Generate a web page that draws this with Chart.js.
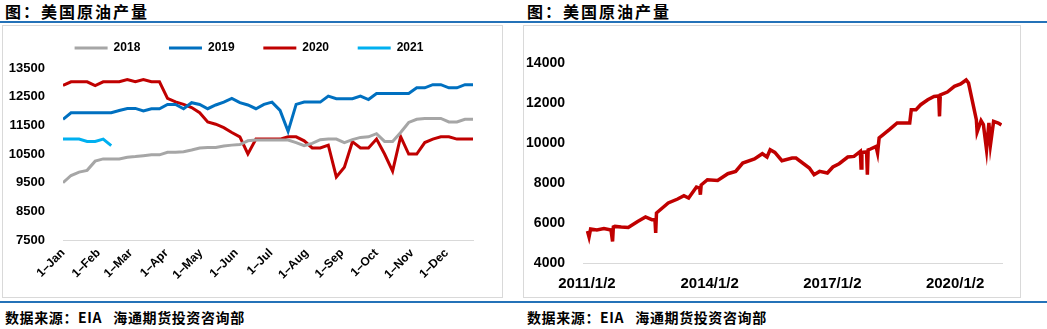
<!DOCTYPE html>
<html>
<head>
<meta charset="utf-8">
<script src="https://cdn.jsdelivr.net/npm/chart.js@4.4.0/dist/chart.umd.min.js"></script>
<style>
body{margin:0;width:1047px;height:329px;background:#fff;position:relative;overflow:hidden;font-family:"Noto Sans CJK SC",sans-serif;color:#000;}
.rule{position:absolute;left:0;width:1047px;height:2px;background:#2472B8;}
.title{position:absolute;top:1px;font-size:16px;font-weight:bold;letter-spacing:2px;line-height:20px;}
.src{position:absolute;top:308px;font-size:14px;font-weight:bold;letter-spacing:0.6px;line-height:18px;}
.box{position:absolute;top:25px;height:271px;border:1px solid #D9D9D9;}
canvas{position:absolute;}
</style>
</head>
<body>
<div class="title" style="left:5px">图：美国原油产量</div>
<div class="title" style="left:527px">图：美国原油产量</div>
<div class="rule" style="top:21px"></div>
<div class="box" style="left:2px;width:499px"></div>
<div class="box" style="left:523px;width:496px"></div>
<canvas id="left" width="498" height="270" style="left:3px;top:26px"></canvas>
<canvas id="right" width="495" height="270" style="left:524px;top:26px"></canvas>
<div class="rule" style="top:301px"></div>
<div class="src" style="left:5px">数据来源：EIA&nbsp;&nbsp;&nbsp;海通期货投资咨询部</div>
<div class="src" style="left:527px">数据来源：EIA&nbsp;&nbsp;&nbsp;海通期货投资咨询部</div>
<script>
// weekly US crude output, thousand b/d, by year (week 0 = first week of Jan)
const years = ['2018', '2019', '2020', '2021'];
const colors = ['#A6A6A6', '#0070C0', '#C00000', '#00B0F0'];

const v2018 = [9500, 9750, 9870, 9930, 10250, 10330, 10330, 10330, 10390, 10410,
  10440, 10470, 10470, 10560, 10560, 10580, 10640, 10710, 10730, 10730,
  10780, 10810, 10830, 10960, 10990, 10990, 10990, 10990, 10990, 10900,
  10790, 10870, 11000, 11020, 11020, 10900, 11000, 11080, 11100, 11210,
  10940, 10940, 11250, 11600, 11710, 11740, 11740, 11740, 11620, 11620,
  11710, 11710];
const v2019 = [11710, 11940, 11940, 11940, 11940, 11940, 11940, 12020, 12090, 12090,
  12000, 12080, 12080, 12230, 12230, 12080, 12290, 12230, 12080, 12210,
  12310, 12440, 12290, 12210, 12080, 12230, 12310, 12020, 11290, 12230,
  12310, 12310, 12310, 12520, 12430, 12430, 12430, 12520, 12400, 12610,
  12610, 12610, 12610, 12610, 12810, 12810, 12920, 12920, 12810, 12810,
  12920, 12920];
const v2020 = [12890, 13020, 13020, 13020, 12890, 13020, 13020, 13020, 13100, 13020,
  13100, 13020, 13020, 12440, 12320, 12230, 12120, 11940, 11620, 11540,
  11420, 11250, 11100, 10500, 11020, 11020, 11020, 11020, 11100, 11100,
  10960, 10710, 10710, 10810, 9700, 10040, 10930, 10710, 10710, 11020,
  10500, 9900, 11110, 10500, 10500, 10900, 11020, 11100, 11100, 11020,
  11020, 11020];
const v2021 = [11020, 11020, 11020, 10940, 10940, 11020, 10790];

const monthLabels = ['1–Jan', '1–Feb', '1–Mar', '1–Apr', '1–May', '1–Jun',
  '1–Jul', '1–Aug', '1–Sep', '1–Oct', '1–Nov', '1–Dec'];
const monthWeeks = [0, 4.43, 8.43, 12.86, 17.14, 21.57, 25.86, 30.29, 34.71, 39, 43.43, 47.71];
const leftTicks = [7500, 8500, 9500, 10500, 11500, 12500, 13500];

// long history, thousand b/d
const histDates = ['2011-01-07', '2011-01-21', '2011-02-04', '2011-04-01', '2011-06-03',
  '2011-08-05', '2011-08-19', '2011-08-26', '2011-09-09', '2011-11-04',
  '2012-01-06', '2012-03-30', '2012-06-08', '2012-08-03', '2012-08-31',
  '2012-09-07', '2012-09-14', '2012-12-28', '2013-03-22', '2013-05-17',
  '2013-06-28', '2013-09-06', '2013-10-04', '2013-10-11', '2013-10-18',
  '2013-12-13', '2014-03-14', '2014-06-13', '2014-08-22', '2014-10-24',
  '2015-02-06', '2015-04-17', '2015-05-29', '2015-06-26', '2015-08-07',
  '2015-10-09', '2016-01-08', '2016-02-12', '2016-06-10', '2016-07-22',
  '2016-09-09', '2016-11-18', '2017-01-06', '2017-03-03', '2017-05-19',
  '2017-07-14', '2017-09-08', '2017-09-15', '2017-09-22', '2017-11-03',
  '2017-11-10', '2017-11-17', '2017-12-08', '2018-01-26', '2018-02-09',
  '2018-02-23', '2018-05-25', '2018-08-03', '2018-11-23', '2018-12-07',
  '2019-01-18', '2019-03-01', '2019-05-03', '2019-06-28', '2019-08-09',
  '2019-08-16', '2019-08-23', '2019-10-25', '2019-12-27', '2020-02-21',
  '2020-04-10', '2020-05-01', '2020-06-05', '2020-07-10', '2020-07-17',
  '2020-08-21', '2020-09-11', '2020-10-09', '2020-10-30', '2020-11-13',
  '2020-12-11', '2021-01-22', '2021-02-19'];
const histOutput = [5600, 5300, 5700, 5650, 5720,
  5650, 5080, 5800, 5830, 5800,
  5780, 6080, 6300, 6165, 6200,
  5500, 6500, 7000, 7200, 7365,
  7250, 7800, 7750, 7415, 7900,
  8165, 8130, 8465, 8580, 9000,
  9200, 9465, 9300, 9665, 9530,
  9115, 9250, 9250, 8750, 8415,
  8580, 8500, 8800, 8965, 9300,
  9330, 9580, 8750, 9530, 9550,
  8415, 9650, 9700, 9830, 9500,
  10250, 10665, 11000, 11000, 11665,
  11665, 11915, 12165, 12330, 12350,
  11330, 12400, 12550, 12830, 12950,
  13150, 13000, 12080, 11165, 10550,
  11115, 10915, 9665, 11000, 9915,
  11080, 11000, 10900];
const yearTicks = ['2011-01-02', '2014-01-02', '2017-01-02', '2020-01-02'];
const yearLabels = ['2011/1/2', '2014/1/2', '2017/1/2', '2020/1/2'];

const font = 'Liberation Sans, Arial, sans-serif';
Chart.defaults.font.family = font;
Chart.defaults.color = '#000';

// centre the legend on the whole panel, not just on the padded area
const legendShift = {
  id: 'legendShift',
  afterLayout(chart) {
    chart.legend.left = -6;
    chart.legend.right = chart.width;
  }
};

const series = [v2018, v2019, v2020, v2021];
new Chart(document.getElementById('left').getContext('2d'), {
  type: 'line',
  data: {
    datasets: series.map((vals, i) => ({
      label: years[i],
      data: vals.map((v, w) => ({x: w, y: v})),
      borderColor: colors[i],
      backgroundColor: colors[i],
      borderWidth: 3,
      pointRadius: 0,
      tension: 0
    }))
  },
  plugins: [legendShift],
  options: {
    responsive: false,
    animation: false,
    layout: {padding: {top: 4, right: 28, bottom: 0, left: 0}},
    plugins: {
      tooltip: {enabled: false},
      legend: {
        labels: {
          boxWidth: 33,
          boxHeight: 3,
          padding: 12,
          font: {size: 12, weight: 'bold'},
          generateLabels: chart => chart.data.datasets.map((d, i) => ({
            text: d.label + (i < 3 ? '     ' : ''),
            fillStyle: d.borderColor,
            strokeStyle: d.borderColor,
            lineWidth: 0,
            datasetIndex: i,
            hidden: false
          }))
        }
      }
    },
    scales: {
      x: {
        type: 'linear',
        min: 0,
        max: 51,
        afterBuildTicks: s => { s.ticks = monthWeeks.map(w => ({value: w})); },
        afterFit: s => { s.height = 56; },
        grid: {display: false, drawTicks: false},
        border: {color: '#D9D9D9', width: 1},
        ticks: {
          autoSkip: false,
          minRotation: 45,
          maxRotation: 45,
          padding: 6,
          font: {size: 12, weight: 'bold'},
          callback: (v, i) => monthLabels[i]
        }
      },
      y: {
        min: 7500,
        max: 13640,
        afterBuildTicks: s => { s.ticks = leftTicks.map(v => ({value: v})); },
        afterFit: s => { s.width = 60; },
        grid: {display: false, drawTicks: false},
        border: {display: false},
        ticks: {padding: 18, font: {size: 13, weight: 'bold'}, callback: v => String(v)}
      }
    }
  }
});

new Chart(document.getElementById('right').getContext('2d'), {
  type: 'line',
  data: {
    datasets: [{
      label: '美国原油产量',
      data: histDates.map((d, i) => ({x: Date.parse(d), y: histOutput[i]})),
      borderColor: '#C00000',
      borderWidth: 3.5,
      pointRadius: 0,
      tension: 0
    }]
  },
  options: {
    responsive: false,
    animation: false,
    layout: {padding: {top: 37, right: 17, bottom: 0, left: 0}},
    plugins: {legend: {display: false}, tooltip: {enabled: false}},
    scales: {
      x: {
        type: 'linear',
        min: Date.parse('2010-11-28'),
        max: Date.parse('2021-02-24'),
        afterBuildTicks: s => { s.ticks = yearTicks.map(d => ({value: Date.parse(d)})); },
        afterFit: s => { s.height = 33; },
        grid: {display: false, drawTicks: false},
        border: {color: '#D9D9D9', width: 1},
        ticks: {
          autoSkip: false,
          maxRotation: 0,
          padding: 12,
          font: {size: 15, weight: 'bold'},
          callback: (v, i) => yearLabels[i]
        }
      },
      y: {
        min: 4000,
        max: 14000,
        afterFit: s => { s.width = 59; },
        grid: {display: false, drawTicks: false},
        border: {display: false},
        ticks: {stepSize: 2000, padding: 18, font: {size: 14, weight: 'bold'}, callback: v => String(v)}
      }
    }
  }
});
</script>
</body>
</html>
